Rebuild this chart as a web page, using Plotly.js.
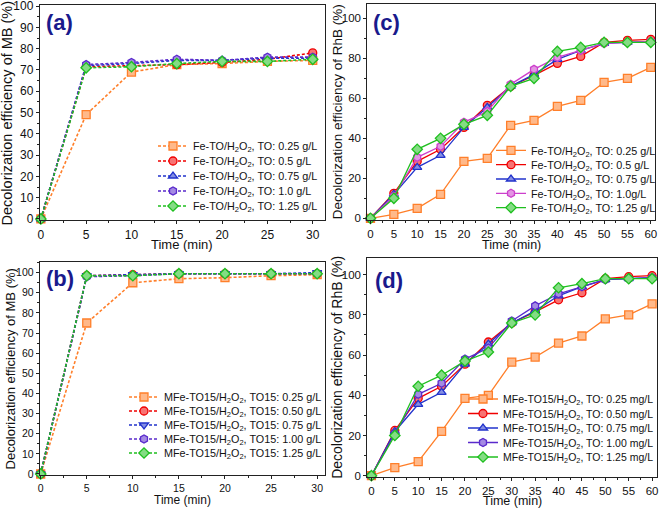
<!DOCTYPE html>
<html>
<head>
<meta charset="utf-8">
<script src="https://cdn.plot.ly/plotly-3.0.1.min.js"></script>
<style>html,body{margin:0;padding:0;background:#fff;} #chart{width:661px;height:510px;}</style>
</head>
<body>
<div id="chart"></div>
<script>
// ---------- data ----------
const timeMB = [0, 5, 10, 15, 20, 25, 30];
const timeRhB = [0, 5, 10, 15, 20, 25, 30, 35, 40, 45, 50, 55, 60];

// (a) Fe-TO / MB
const a_025 = [0, 49, 69, 72.5, 73, 74, 74.5];
const a_050 = [0, 71.5, 72, 72.5, 73.5, 75, 78];
const a_075 = [0, 72, 73, 74.5, 74.5, 75.5, 75.5];
const a_100 = [0, 72.5, 73.5, 75, 74.5, 76, 76];
const a_125 = [0, 71, 71.5, 73, 74, 74, 75];
const a_labels = ["0.25 g/L", "0.5 g/L", "0.75 g/L", "1.0 g/L", "1.25 g/L"];

// (c) Fe-TO / RhB
const c_025 = [0, 2, 5, 12, 28.5, 30, 46.5, 49, 56, 59, 68, 70, 75.5];
const c_050 = [0, 12.5, 28.5, 34.5, 45.5, 56.5, 66, 71.5, 77.5, 81, 88, 89, 89.5];
const c_075 = [0, 12, 25.5, 31.5, 45.5, 55.5, 66, 72, 79.5, 84, 87.5, 88, 88.5];
const c_100 = [0, 11, 30.5, 36, 48, 53.5, 67, 74.5, 80.5, 84, 87.5, 88, 88.5];
const c_125 = [0, 10, 34.5, 40, 47, 51.5, 66, 70, 83.5, 85.5, 88, 88, 88];
const c_labels = ["0.25 g/L", "0.5 g/L", "0.75 g/L", "1.0g/L", "1.25 g/L"];

// (b) MFe-TO15 / MB
const b_025 = [0, 75, 95, 97, 97.5, 98.5, 99];
const b_050 = [0, 98.5, 99, 99.5, 99.5, 99.5, 99.5];
const b_075 = [0, 98.5, 99, 99.5, 99.5, 99.5, 100];
const b_100 = [0, 98, 98.5, 99.5, 99.5, 99.5, 99.5];
const b_125 = [0, 98.5, 98.5, 99.5, 99.5, 99.5, 99.5];
const b_labels = ["0.25 g/L", "0.50 g/L", "0.75 g/L", "1.00 g/L", "1.25 g/L"];

// (d) MFe-TO15 / RhB
const d_025 = [0, 4, 7, 22, 38.5, 40, 56.5, 59, 66, 69.5, 78, 80, 85.5];
const d_050 = [0, 22.5, 38.5, 44.5, 55.5, 66.5, 76, 81.5, 87.5, 91, 98, 99, 99.5];
const d_075 = [0, 22, 35.5, 41.5, 55.5, 65.5, 76, 82, 89.5, 94, 97.5, 98, 98.5];
const d_100 = [0, 21, 40.5, 46, 58, 63.5, 77, 84.5, 90.5, 94, 97.5, 98, 98.5];
const d_125 = [0, 20, 44.5, 50, 57, 61.5, 76, 80, 93.5, 95.5, 98, 98, 98];
const d_labels = ["0.25 mg/L", "0.50 mg/L", "0.75 mg/L", "1.00 mg/L", "1.25 mg/L"];

const yTitleMB = "Decolorization efficiency of MB (%)";
const yTitleRhB = "Decolorization efficiency of RhB (%)";
const xTitle = "Time (min)";

// ---------- styles ----------
const ORANGE = "#FF7F2A", RED = "#F00000", BLUE = "#2233CC", PURPLE = "#5A2ACC", MAGENTA = "#CC3FCC", GREEN = "#1FBF1F";
function tint(hex, f) {
  const n = parseInt(hex.slice(1), 16);
  const r = (n >> 16) & 255, g = (n >> 8) & 255, b = n & 255;
  const m = c => Math.round(c + (255 - c) * f);
  return `rgb(${m(r)},${m(g)},${m(b)})`;
}
const H2O2 = "H<sub>2</sub>O<sub>2</sub>";

function mk(x, y, name, color, symbol, xa, ya, legend, dash) {
  return {
    x: x, y: y, name: name, type: "scatter", mode: "lines+markers",
    xaxis: xa, yaxis: ya, legend: legend, cliponaxis: false,
    line: {color: color, width: dash ? 1.6 : 1.3, dash: dash || "solid"},
    marker: {symbol: symbol, size: 8, color: tint(color, 0.45), line: {color: color, width: 1.3}}
  };
}

const traces = [];
const aSeries = [a_025, a_050, a_075, a_100, a_125];
const cSeries = [c_025, c_050, c_075, c_100, c_125];
const bSeries = [b_025, b_050, b_075, b_100, b_125];
const dSeries = [d_025, d_050, d_075, d_100, d_125];
const colsABD = [ORANGE, RED, BLUE, PURPLE, GREEN];
const colsC = [ORANGE, RED, BLUE, MAGENTA, GREEN];
const symA = ["square", "circle", "triangle-up", "hexagon", "diamond"];
const symB = ["square", "circle", "triangle-down", "hexagon", "diamond"];

aSeries.forEach((s, i) => traces.push(mk(timeMB, s, "Fe-TO/" + H2O2 + ", TO: " + a_labels[i], colsABD[i], symA[i], "x", "y", "legend", "3px,2px")));
cSeries.forEach((s, i) => traces.push(mk(timeRhB, s, "Fe-TO/" + H2O2 + ", TO: " + c_labels[i], colsC[i], symA[i], "x2", "y2", "legend2", null)));
bSeries.forEach((s, i) => traces.push(mk(timeMB, s, "MFe-TO15/" + H2O2 + ", TO15: " + b_labels[i], colsABD[i], symB[i], "x3", "y3", "legend3", "3px,2px")));
dSeries.forEach((s, i) => traces.push(mk(timeRhB, s, "MFe-TO15/" + H2O2 + ", TO: " + d_labels[i], colsABD[i], symA[i], "x4", "y4", "legend4", null)));

const W = 661, Hh = 510;
const px = v => v / W, py = v => (Hh - v) / Hh;
const FAM = "Liberation Sans, Arial, sans-serif";
const fnt = s => ({family: FAM, size: s, color: "#111"});

function ax(dom, range, dtick, anchor, tsize) {
  return {
    domain: dom, range: range, anchor: anchor, dtick: dtick, tick0: 0,
    showline: true, linecolor: "#222", linewidth: 1.2, mirror: true,
    ticks: "outside", ticklen: 3, tickwidth: 1, tickcolor: "#222",
    minor: {ticks: "outside", ticklen: 2, dtick: dtick / 2, tickcolor: "#222"},
    showgrid: false, zeroline: false, tickfont: fnt(tsize), ticklabeloverflow: "allow"
  };
}

function leg(x, y, s) {
  return {x: x, y: y, xanchor: "right", yanchor: "middle", bgcolor: "rgba(0,0,0,0)",
          borderwidth: 0, font: fnt(s), itemwidth: 30, tracegroupgap: 0};
}

const labFont = {family: FAM, size: 22, color: "#1a1a8c", weight: "bold"};
function lab(t, x, y) {
  return {text: "<b>" + t + "</b>", xref: "paper", yref: "paper", x: px(x), y: py(y),
          xanchor: "left", yanchor: "middle", showarrow: false, font: labFont};
}
function xt(xref, y, s) {
  return {text: xTitle, xref: xref, yref: "paper", x: 0.5, y: py(y), xanchor: "center",
          yanchor: "middle", showarrow: false, font: fnt(s)};
}
function yt(text, yref, x, s) {
  return {text: text, xref: "paper", yref: yref, x: px(x), y: 0.5, xanchor: "center",
          yanchor: "middle", textangle: -90, showarrow: false, font: fnt(s)};
}

const layout = {
  width: W, height: Hh, margin: {l: 0, r: 0, t: 0, b: 0},
  paper_bgcolor: "#fff", plot_bgcolor: "#fff", showlegend: true,
  xaxis:  ax([px(40), px(325)], [-0.1, 31.3], 5, "y", 12),
  yaxis:  ax([py(220), py(5)], [-0.5, 100.5], 10, "x", 12),
  xaxis2: ax([px(368), px(656)], [-0.65, 60.9], 5, "y2", 11.5),
  yaxis2: ax([py(219.5), py(4)], [-0.6, 107.2], 20, "x2", 11.5),
  xaxis3: ax([px(40), px(325)], [-0.08, 30.8], 5, "y3", 10.5),
  yaxis3: ax([py(475), py(262)], [-0.5, 105.3], 10, "x3", 10.5),
  xaxis4: ax([px(368), px(658)], [-0.85, 61.05], 5, "y4", 11.5),
  yaxis4: ax([py(476.7), py(258)], [-0.5, 108.3], 20, "x4", 11.5),
  legend:  leg(px(323), py(176), 10.8),
  legend2: leg(px(662), py(179), 10.8),
  legend3: leg(px(327), py(425), 10.8),
  legend4: leg(px(659), py(428), 10.5),
  annotations: [
    lab("(a)", 44, 23), lab("(c)", 372, 23), lab("(b)", 44, 278), lab("(d)", 374, 280),
    xt("x domain", 245, 13), xt("x2 domain", 245, 12.5), xt("x3 domain", 500, 12), xt("x4 domain", 501, 12.5),
    yt(yTitleMB, "y domain", 7, 14.5), yt(yTitleRhB, "y2 domain", 338, 13.5),
    yt(yTitleMB, "y3 domain", 11, 13), yt(yTitleRhB, "y4 domain", 338, 14)
  ]
};

// tighter legend row spacing (as in the reference)
const legendSpacing = {legend: 15, legend2: 14.3, legend3: 14, legend4: 14.5};

Plotly.newPlot("chart", traces, layout, {displayModeBar: false, staticPlot: true}).then(gd => {
  Object.keys(legendSpacing).forEach(id => {
    const items = gd.querySelectorAll("g." + id + " g.traces");
    if (!items.length) return;
    const pos = Array.from(items).map(el => {
      const m = /translate\(\s*([-\d.e]+)[ ,]+([-\d.e]+)\s*\)/.exec(el.getAttribute("transform") || "");
      return m ? [parseFloat(m[1]), parseFloat(m[2])] : [0, 0];
    });
    const n = pos.length;
    const oldMid = (pos[0][1] + pos[n - 1][1]) / 2;
    const sp = legendSpacing[id];
    const newStart = oldMid - sp * (n - 1) / 2;
    items.forEach((el, i) => {
      el.setAttribute("transform", "translate(" + pos[i][0] + "," + (newStart + i * sp) + ")");
    });
  });
});
</script>
</body>
</html>
